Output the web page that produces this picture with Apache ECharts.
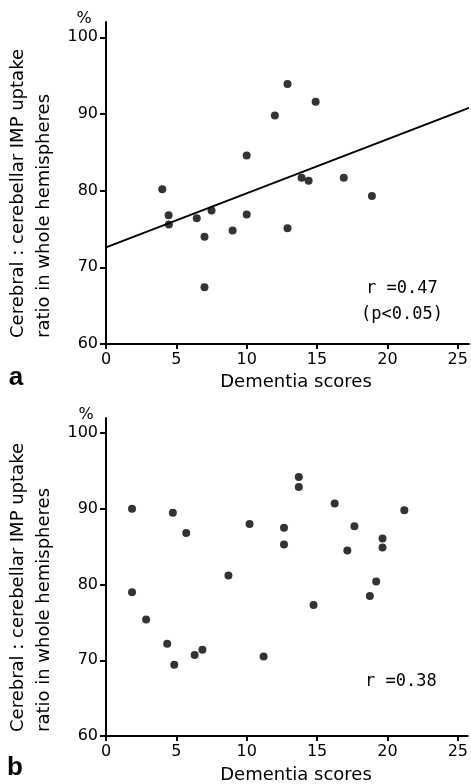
<!DOCTYPE html>
<html>
<head>
<meta charset="utf-8">
<script src="https://cdn.jsdelivr.net/npm/echarts@6/dist/echarts.min.js"></script>
<style>
  html, body { margin: 0; padding: 0; background: #fff; }
  #chart { width: 471px; height: 784px; }
</style>
</head>
<body>
<div id="chart"></div>
<script>
// panel a
const scoresA = [4, 4.45, 4.47, 6.45, 7, 7, 7.5, 9, 10, 10, 12, 12.9, 12.9, 13.9, 14.4, 14.9, 16.9, 18.9]
const ratioA = [80.2, 76.8, 75.6, 76.4, 74.0, 67.4, 77.4, 74.8, 84.6, 76.9, 89.8, 93.9, 75.1, 81.7, 81.3, 91.6, 81.7, 79.3]
const fitX = [0, 25.8]
const fitY = [72.6, 90.8]

// panel b
const scoresB = [1.85, 1.85, 2.85, 4.35, 4.75, 4.85, 5.7, 6.3, 6.85, 8.7, 10.2, 11.2, 12.65, 12.65, 13.7, 13.7, 14.75, 16.25, 17.15, 17.65, 18.75, 19.2, 19.65, 19.65, 21.2]
const ratioB = [90.0, 79.0, 75.4, 72.2, 89.5, 69.4, 86.8, 70.7, 71.4, 81.2, 88.0, 70.5, 87.5, 85.3, 94.2, 92.9, 77.3, 90.7, 84.5, 87.7, 78.5, 80.4, 86.1, 84.9, 89.8]

const xTicks = [0, 5, 10, 15, 20, 25]
const yTicks = [60, 70, 80, 90, 100]

const yLabel = 'Cerebral : cerebellar IMP uptake\nratio in whole hemispheres'
const xLabel = 'Dementia scores'

const chart = echarts.init(document.getElementById('chart'))

function pairs (xs, ys) {
  return xs.map((x, i) => [x, ys[i]])
}

function xAxisOf (idx, max) {
  return {
    type: 'value',
    gridIndex: idx,
    min: 0,
    max: max,
    axisLine: { lineStyle: { color: '#000', width: 2 } },
    axisTick: { show: true, length: 5, lineStyle: { color: '#000', width: 2 }, customValues: xTicks },
    axisLabel: {
      customValues: xTicks,
      color: '#000',
      fontFamily: 'DejaVu Sans',
      fontSize: 16,
      margin: 8
    },
    splitLine: { show: false }
  }
}

function yAxisOf (idx) {
  return {
    type: 'value',
    gridIndex: idx,
    min: 60,
    max: 102,
    axisLine: { show: true, lineStyle: { color: '#000', width: 2 } },
    axisTick: { show: true, length: 6, lineStyle: { color: '#000', width: 2 }, customValues: yTicks },
    axisLabel: {
      customValues: yTicks,
      color: '#000',
      fontFamily: 'DejaVu Sans',
      fontSize: 16,
      margin: 8
    },
    splitLine: { show: false }
  }
}

const labelFont = '18px "DejaVu Sans"'
const monoFont = '17px "DejaVu Sans Mono"'

const option = {
  animation: false,
  grid: [
    { left: 106, top: 22, width: 363, height: 322 },
    { left: 106, top: 418, width: 364, height: 318 }
  ],
  xAxis: [xAxisOf(0, 25.8), xAxisOf(1, 25.7)],
  yAxis: [yAxisOf(0), yAxisOf(1)],
  series: [
    {
      type: 'scatter',
      xAxisIndex: 0,
      yAxisIndex: 0,
      symbolSize: 8,
      itemStyle: { color: '#000' },
      data: pairs(scoresA, ratioA)
    },
    {
      type: 'line',
      xAxisIndex: 0,
      yAxisIndex: 0,
      showSymbol: false,
      lineStyle: { color: '#000', width: 2 },
      data: pairs(fitX, fitY)
    },
    {
      type: 'scatter',
      xAxisIndex: 1,
      yAxisIndex: 1,
      symbolSize: 8,
      itemStyle: { color: '#000' },
      data: pairs(scoresB, ratioB)
    }
  ],
  graphic: [
    // y axis titles
    { type: 'text', x: 31, y: 338, rotation: Math.PI / 2,
      style: { text: yLabel, font: labelFont, align: 'left', verticalAlign: 'middle', lineHeight: 26, fill: '#000' } },
    { type: 'text', x: 31, y: 732, rotation: Math.PI / 2,
      style: { text: yLabel, font: labelFont, align: 'left', verticalAlign: 'middle', lineHeight: 26, fill: '#000' } },
    // x axis titles
    { type: 'text', x: 296, y: 382,
      style: { text: xLabel, font: labelFont, align: 'center', verticalAlign: 'middle', fill: '#000' } },
    { type: 'text', x: 296, y: 775,
      style: { text: xLabel, font: labelFont, align: 'center', verticalAlign: 'middle', fill: '#000' } },
    // percent marks
    { type: 'text', x: 84, y: 19,
      style: { text: '%', font: '16px "DejaVu Sans"', align: 'center', verticalAlign: 'middle', fill: '#000' } },
    { type: 'text', x: 86, y: 415,
      style: { text: '%', font: '16px "DejaVu Sans"', align: 'center', verticalAlign: 'middle', fill: '#000' } },
    // panel letters
    { type: 'text', x: 16, y: 378,
      style: { text: 'a', font: 'bold 26px "Liberation Sans"', align: 'center', verticalAlign: 'middle', fill: '#000' } },
    { type: 'text', x: 15, y: 768,
      style: { text: 'b', font: 'bold 26px "Liberation Sans"', align: 'center', verticalAlign: 'middle', fill: '#000' } },
    // correlation notes
    { type: 'text', x: 366, y: 289,
      style: { text: 'r =0.47', font: monoFont, align: 'left', verticalAlign: 'middle', fill: '#000' } },
    { type: 'text', x: 361, y: 315,
      style: { text: '(p<0.05)', font: monoFont, align: 'left', verticalAlign: 'middle', fill: '#000' } },
    { type: 'text', x: 365, y: 682,
      style: { text: 'r =0.38', font: monoFont, align: 'left', verticalAlign: 'middle', fill: '#000' } }
  ]
}

chart.setOption(option)
</script>
</body>
</html>
